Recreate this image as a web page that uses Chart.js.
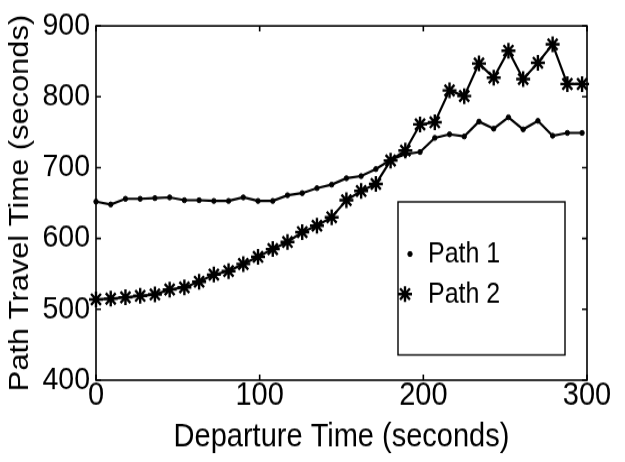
<!DOCTYPE html>
<html>
<head>
<meta charset="utf-8">
<script src="https://cdn.jsdelivr.net/npm/chart.js@4.4.1/dist/chart.umd.min.js"></script>
<style>
  html, body { margin: 0; padding: 0; background: #fff; width: 625px; height: 462px; overflow: hidden; }
  /* the scanned figure is a little taller than wide, so stretch it */
  #wrap { width: 625px; height: 412px; transform: scaleY(1.1214); transform-origin: 0 0; }
</style>
</head>
<body>
<div id="wrap"><canvas id="travelChart" width="625" height="412"></canvas></div>
<script>
// DATA

const departureTime = [
    0, 9, 18, 27, 36, 45, 54, 63, 72, 81, 90, 99,
    108, 117, 126, 135, 144, 153, 162, 171, 180, 189,
    198, 207, 216, 225, 234, 243, 252, 261, 270, 279,
    288, 297
];

const path1 = [
    652, 648, 656, 656, 657, 658, 654, 654, 653, 653, 658, 653,
    653, 661, 664, 671, 676, 685, 688, 698, 711, 719,
    722, 742, 747, 744, 765, 755, 771, 754, 766, 745,
    749, 749
];

const path2 = [
    514, 515, 517, 519, 521, 528, 531, 539, 549, 554, 564, 574,
    585, 595, 609, 618, 630, 654, 667, 677, 710, 724,
    761, 764, 809, 801, 847, 827, 865, 825, 848, 874,
    818, 818
];

const xTicks = [0, 100, 200, 300];
const yTicks = [400, 500, 600, 700, 800, 900];

const seriesNames = ['Path 1', 'Path 2'];

const FONT = '"Liberation Sans", Arial, Helvetica, sans-serif';


// BOX + INWARD TICKS (matlab style)

const framePlugin = {
    id: 'frame',
    afterDatasetsDraw(chart) {
        const { ctx, chartArea: a, scales: { x, y } } = chart;
        ctx.save();
        ctx.strokeStyle = '#000';
        ctx.lineWidth = 1.6;
        ctx.strokeRect(a.left, a.top, a.right - a.left, a.bottom - a.top);
        ctx.beginPath();
        xTicks.forEach(v => {
            const px = x.getPixelForValue(v);
            ctx.moveTo(px, a.bottom); ctx.lineTo(px, a.bottom - 5);
            ctx.moveTo(px, a.top); ctx.lineTo(px, a.top + 5);
        });
        yTicks.forEach(v => {
            const py = y.getPixelForValue(v);
            ctx.moveTo(a.left, py); ctx.lineTo(a.left + 5, py);
            ctx.moveTo(a.right, py); ctx.lineTo(a.right - 5, py);
        });
        ctx.stroke();
        ctx.restore();
    }
};


// LEGEND BOX INSIDE THE PLOT

const boxLegend = {
    id: 'boxLegend',
    afterDraw(chart) {
        const { ctx } = chart;
        const left = 398, right = 565, top = 180, bottom = 316.5;
        ctx.save();
        ctx.fillStyle = '#fff';
        ctx.fillRect(left, top, right - left, bottom - top);
        ctx.strokeStyle = '#000';
        ctx.lineWidth = 1.4;
        ctx.strokeRect(left, top, right - left, bottom - top);

        const rows = [226.5, 262.2];
        chart.data.datasets.forEach((ds, i) => {
            ctx.fillStyle = '#000';
            ctx.strokeStyle = '#000';
            ctx.lineWidth = ds.pointBorderWidth;
            Chart.helpers.drawPoint(ctx, {
                pointStyle: ds.pointStyle,
                radius: ds.pointRadius,
                borderWidth: ds.pointBorderWidth,
                rotation: 0
            }, i === 0 ? 410 : 405, rows[i]);
            ctx.font = '25px ' + FONT;
            ctx.textBaseline = 'middle';
            ctx.textAlign = 'left';
            ctx.fillText(ds.label, 428, rows[i] + 1);
        });
        ctx.restore();
    }
};


// CHART

const ctx = document.getElementById('travelChart');

new Chart(ctx, {
    type: 'line',

    data: {
        datasets: [
            {
                label: seriesNames[0],
                data: departureTime.map((t, i) => ({ x: t, y: path1[i] })),
                borderColor: '#000',
                backgroundColor: '#000',
                borderWidth: 2.2,
                pointStyle: 'circle',
                pointRadius: 2.2,
                pointBorderWidth: 1,
                pointBackgroundColor: '#000',
                pointBorderColor: '#000',
                tension: 0,
                clip: false
            },
            {
                label: seriesNames[1],
                data: departureTime.map((t, i) => ({ x: t, y: path2[i] })),
                borderColor: '#000',
                backgroundColor: '#000',
                borderWidth: 2.2,
                pointStyle: 'star',
                pointRadius: 7,
                pointBorderWidth: 2.4,
                pointBorderColor: '#000',
                tension: 0,
                clip: false
            }
        ]
    },

    options: {
        responsive: false,
        animation: false,
        layout: {
            padding: { top: 22, right: 38, left: 0, bottom: 0 }
        },
        plugins: {
            legend: { display: false },
            tooltip: { enabled: false }
        },
        scales: {
            x: {
                type: 'linear',
                min: 0,
                max: 300,
                afterBuildTicks: s => { s.ticks = xTicks.map(v => ({ value: v })); },
                afterFit: s => { s.height = 73; },
                grid: { display: false, drawTicks: false },
                border: { display: false },
                ticks: {
                    color: '#000',
                    padding: -3,
                    maxRotation: 0,
                    font: { family: FONT, size: 29 }
                },
                title: {
                    display: true,
                    text: 'Departure Time (seconds)',
                    color: '#000',
                    padding: { top: 0, bottom: 5 },
                    font: { family: FONT, size: 29 }
                }
            },
            y: {
                min: 400,
                max: 900,
                afterBuildTicks: s => { s.ticks = yTicks.map(v => ({ value: v })); },
                afterFit: s => { s.width = 96; },
                grid: { display: false, drawTicks: false },
                border: { display: false },
                ticks: {
                    color: '#000',
                    padding: 6,
                    font: { family: FONT, size: 28.5 }
                },
                title: {
                    display: true,
                    text: 'Path Travel Time (seconds)',
                    color: '#000',
                    padding: { top: 4, bottom: 0 },
                    font: { family: FONT, size: 27.5 }
                }
            }
        }
    },

    plugins: [framePlugin, boxLegend]
});
</script>
</body>
</html>
